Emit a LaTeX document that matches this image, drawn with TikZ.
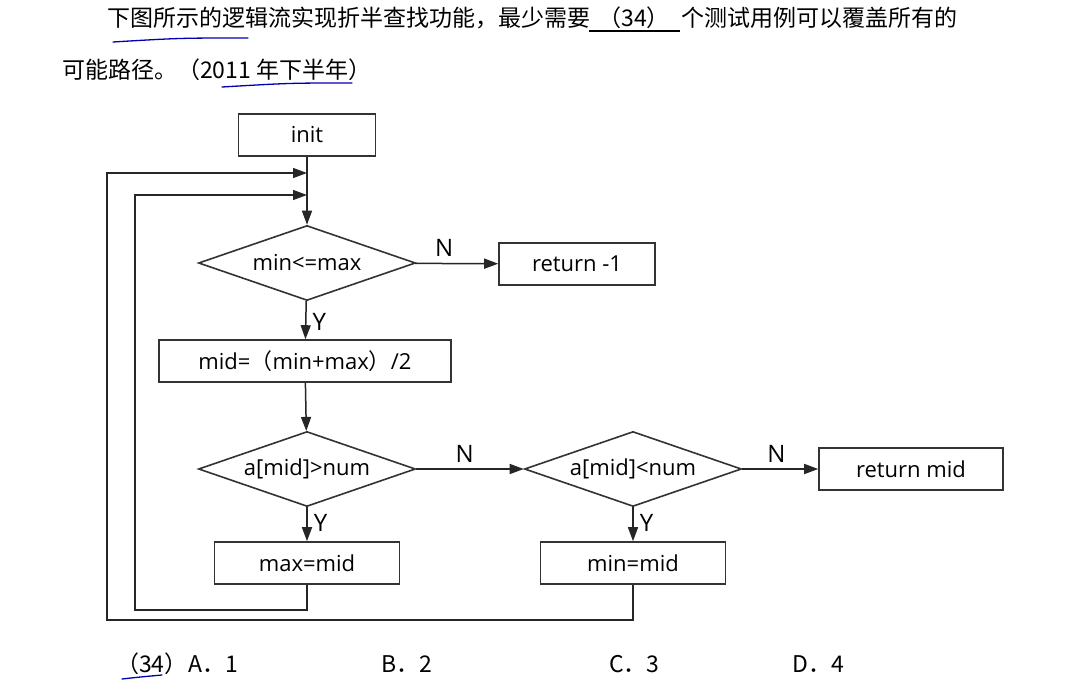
\documentclass[tikz,border=0pt]{standalone}
\usepackage{fontspec}
\setmainfont{Noto Sans CJK SC}
\newfontfamily\flowfont{Open Sans}
\usetikzlibrary{shapes.geometric,arrows.meta}

\begin{document}
\begin{tikzpicture}[x=1pt, y=-1pt,
    box/.style={draw=black!80, line width=1.6pt, minimum height=42pt, inner sep=0pt,
      font=\flowfont\fontsize{22}{22}\selectfont},
    test/.style={diamond, aspect=2.9, draw=black!80, line width=1.6pt, minimum width=217pt,
      minimum height=75pt, inner sep=0pt, font=\flowfont\fontsize{22}{22}\selectfont},
    flow/.style={draw=black!85, line width=1.5pt, -{Triangle[length=14pt,width=10pt]}},
    lab/.style={font=\flowfont\fontsize{24}{24}\selectfont, inner sep=6pt},
    question/.style={font=\fontsize{23}{23}\selectfont, inner sep=0pt},
    pen/.style={blue!70!black, line width=1.3pt, line cap=round}]
    \path[use as bounding box, fill=white] (0, 0) rectangle (1070, 692);

    % question text
    \node[question, anchor=west] (q1) at (107, 18) {下图所示的逻辑流实现折半查找功能，最少需要};
    \node[question] (blank) at (634, 18) {（34）};
    \node[question, anchor=west] (q2) at (681, 18) {个测试用例可以覆盖所有的};
    \node[question, anchor=west] (q3) at (62, 70) {可能路径。（2011 年下半年）};
    \draw[line width=1.3pt] (589, 31) -- (680, 31);

    % flowchart
    \node[box, minimum width=137pt] (init) at (307, 135) {init};
    \node[test] (cond1) at (307, 263) {min<=max};
    \node[box, minimum width=156pt] (ret1) at (577, 264) {return -1};
    \node[box, minimum width=292pt] (mid) at (305, 361) {mid={\rmfamily（}min+max{\rmfamily）}/2};
    \node[test] (cond2) at (307, 469) {a[mid]>num};
    \node[test] (cond3) at (633, 469) {a[mid]<num};
    \node[box, minimum width=184pt] (retmid) at (911, 469) {return mid};
    \node[box, minimum width=185pt] (maxmid) at (307, 563) {max=mid};
    \node[box, minimum width=185pt] (minmid) at (633, 563) {min=mid};

    \coordinate (in1) at (307, 173);
    \coordinate (in2) at (307, 195);
    \coordinate (back1) at (107, 620);
    \coordinate (back2) at (135, 610);

    \draw[flow] (init) -- (cond1);
    \draw[flow] (cond1) -- node[lab, above, pos=0.35] {N} (ret1);
    \draw[flow] (cond1) -- node[lab, right, pos=0.55] {Y} (mid);
    \draw[flow] (mid) -- (cond2);
    \draw[flow] (cond2) -- node[lab, above, pos=0.45] {N} (cond3);
    \draw[flow] (cond3) -- node[lab, above, pos=0.45] {N} (retmid);
    \draw[flow] (cond2) -- node[lab, right, pos=0.45] {Y} (maxmid);
    \draw[flow] (cond3) -- node[lab, right, pos=0.45] {Y} (minmid);
    \draw[flow] (maxmid.south) |- (back2) |- (in2);
    \draw[flow] (minmid.south) |- (back1) |- (in1);

    % answers
    \node[question, anchor=west] (num) at (116, 664) {（34）};
    \node[question, anchor=west] (optA) at (188, 664) {A．1};
    \node[question, anchor=west] (optB) at (381, 664) {B．2};
    \node[question, anchor=west] (optC) at (609, 664) {C．3};
    \node[question, anchor=west] (optD) at (792, 664) {D．4};

    % pen marks
    \draw[pen] (113, 42) .. controls (180, 38) .. (248, 38);
    \draw[pen] (222, 87) .. controls (290, 83) .. (352, 83);
    \draw[pen] (122, 679) .. controls (140, 677) .. (162, 675);
\end{tikzpicture}
\end{document}
